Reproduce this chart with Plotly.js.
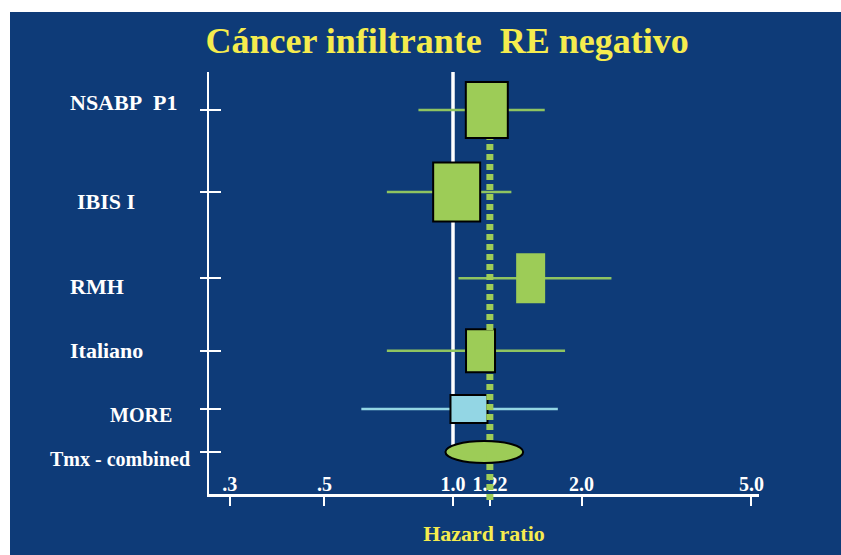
<!DOCTYPE html>
<html>
<head>
<meta charset="utf-8">
<script src="https://cdn.plot.ly/plotly-3.0.1.min.js"></script>
<style>
  html, body { margin: 0; padding: 0; background: #ffffff; width: 841px; height: 555px; overflow: hidden; }
  #chart { position: absolute; left: 10px; top: 12px; width: 831px; height: 543px; }
</style>
</head>
<body>
<div id="chart"></div>
<script>
// ---- data ----
const studies   = ['NSABP\u00a0 P1', 'IBIS I', 'RMH', 'Italiano', 'MORE'];
const hr        = [1.20, 1.02, 1.52, 1.16, 1.09];
const ciLow     = [0.83, 0.70, 1.03, 0.70, 0.61];
const ciHigh    = [1.64, 1.37, 2.35, 1.83, 1.76];
const pooledLabel = 'Tmx - combined';
const pooledHR    = 1.22;
const pooledLow   = 0.96;
const pooledHigh  = 1.46;
const tickVals  = [0.3, 0.5, 1.0, 1.22, 2.0, 5.0];
const tickText  = ['.3', '.5', '1.0', '1.22', '2.0', '5.0'];

// ---- layout / style constants ----
const rowPos    = [0, 1.2, 2.46, 3.52, 4.37, 5];      // vertical row slots (axis units)
const boxW      = [42, 47, 29, 29, 37];                // px
const boxH      = [56, 59, 50, 43, 28];                // px
const boxBorder = [2, 2, 0, 2, 2];
const GREEN = '#9dcc57', WHISK_GREEN = '#8fc460', LIGHTBLUE = '#93d6e4';
const boxColor  = [GREEN, GREEN, GREEN, GREEN, LIGHTBLUE];
const whiskColor = [WHISK_GREEN, WHISK_GREEN, WHISK_GREEN, WHISK_GREEN, LIGHTBLUE];
const labelSize = [22, 22, 22, 22, 20, 20];
const labelXShift = [0, 7, 0, 0, 40, -20];
const labelYShift = [8, -9, -8, 0, -6, -7];
const BG = '#0e3b78', YELLOW = '#f5ec4e';
const FONT = 'Liberation Serif, Times New Roman, serif';
const xLogRange = [-0.5714, 0.7166];
const yRange = [5.614, -0.556];

const traces = [];
studies.forEach((s, i) => {
  traces.push({
    type: 'scatter', mode: 'lines',
    x: [ciLow[i], ciHigh[i]], y: [rowPos[i], rowPos[i]],
    line: {color: whiskColor[i], width: 2.5},
    name: s, showlegend: false, hoverinfo: 'skip'
  });
});
// invisible helper traces so the overlay axes exist
traces.push({
  type: 'scatter', mode: 'markers', x: hr.concat([pooledHR]), y: rowPos,
  yaxis: 'y2', marker: {opacity: 0, size: 1}, showlegend: false, hoverinfo: 'skip'
});
traces.push({
  type: 'scatter', mode: 'markers', x: hr.map(Math.log10), y: rowPos.slice(0, 5),
  xaxis: 'x2', marker: {opacity: 0, size: 1}, showlegend: false, hoverinfo: 'skip'
});

const shapes = [];
// reference line at HR = 1
shapes.push({type: 'line', xref: 'x', yref: 'paper', x0: 1, x1: 1, y0: 0.114, y1: 1,
  line: {color: '#ffffff', width: 3.5}, layer: 'below'});
// study boxes (anchored on the linear log10 twin axis)
studies.forEach((s, i) => {
  shapes.push({type: 'rect', xref: 'x2', yref: 'y', xsizemode: 'pixel', ysizemode: 'pixel',
    xanchor: Math.log10(hr[i]), yanchor: rowPos[i],
    x0: -boxW[i] / 2, x1: boxW[i] / 2, y0: -boxH[i] / 2, y1: boxH[i] / 2,
    fillcolor: boxColor[i], line: {color: '#000000', width: boxBorder[i]}, layer: 'above'});
});
// pooled estimate ellipse
shapes.push({type: 'circle', xref: 'x', yref: 'y', ysizemode: 'pixel', yanchor: rowPos[5],
  x0: pooledLow, x1: pooledHigh, y0: -11, y1: 11,
  fillcolor: GREEN, line: {color: '#000000', width: 2}, layer: 'above'});
// pooled HR dashed line
shapes.push({type: 'line', xref: 'x', yref: 'paper', x0: pooledHR, x1: pooledHR, y0: -0.014, y1: 0.841,
  line: {color: GREEN, width: 7, dash: '6px,4px'}, layer: 'above'});

const allLabels = studies.concat([pooledLabel]);
const annotations = allLabels.map((t, i) => ({
  text: t, xref: 'paper', yref: 'y', x: -0.2564, y: rowPos[i],
  xanchor: 'left', yanchor: 'middle', xshift: labelXShift[i], yshift: labelYShift[i],
  showarrow: false, font: {family: FONT, size: labelSize[i], color: '#ffffff', weight: 'bold'}
}));

const layout = {
  width: 831, height: 543,
  margin: {l: 199, r: 82, t: 60, b: 61},
  paper_bgcolor: BG, plot_bgcolor: 'rgba(0,0,0,0)',
  showlegend: false,
  title: {
    text: 'Cáncer infiltrante\u00a0 RE negativo',
    x: 0.526, xref: 'container', xanchor: 'center',
    y: 0.948, yref: 'container', yanchor: 'middle',
    font: {family: FONT, size: 36, color: YELLOW, weight: 'bold'}
  },
  xaxis: {
    type: 'log', range: xLogRange,
    tickmode: 'array', tickvals: tickVals, ticktext: tickText,
    ticks: 'outside', ticklen: 9, tickwidth: 2, tickcolor: '#ffffff',
    ticklabelposition: 'inside', ticklabeloverflow: 'allow',
    tickfont: {family: FONT, size: 20, color: '#ffffff', weight: 'bold'},
    showline: true, linecolor: '#ffffff', linewidth: 2.5,
    showgrid: false, zeroline: false, fixedrange: true,
    title: {text: 'Hazard ratio', standoff: 32,
      font: {family: FONT, size: 22, color: YELLOW, weight: 'bold'}}
  },
  xaxis2: {
    overlaying: 'x', anchor: 'y', side: 'bottom', type: 'linear', range: xLogRange,
    showticklabels: false, ticks: '', showline: false, showgrid: false, zeroline: false, fixedrange: true
  },
  yaxis: {
    range: yRange, tickmode: 'array', tickvals: rowPos, showticklabels: false,
    ticks: 'outside', ticklen: 7, tickwidth: 2, tickcolor: '#ffffff',
    showline: true, linecolor: '#ffffff', linewidth: 2.5,
    showgrid: false, zeroline: false, fixedrange: true
  },
  yaxis2: {
    overlaying: 'y', side: 'left', anchor: 'x',
    range: yRange, tickmode: 'array', tickvals: rowPos, showticklabels: false,
    ticks: 'inside', ticklen: 12, tickwidth: 2, tickcolor: '#ffffff',
    showline: false, showgrid: false, zeroline: false, fixedrange: true
  },
  shapes: shapes,
  annotations: annotations
};

Plotly.newPlot('chart', traces, layout, {displayModeBar: false, staticPlot: true});
</script>
</body>
</html>
